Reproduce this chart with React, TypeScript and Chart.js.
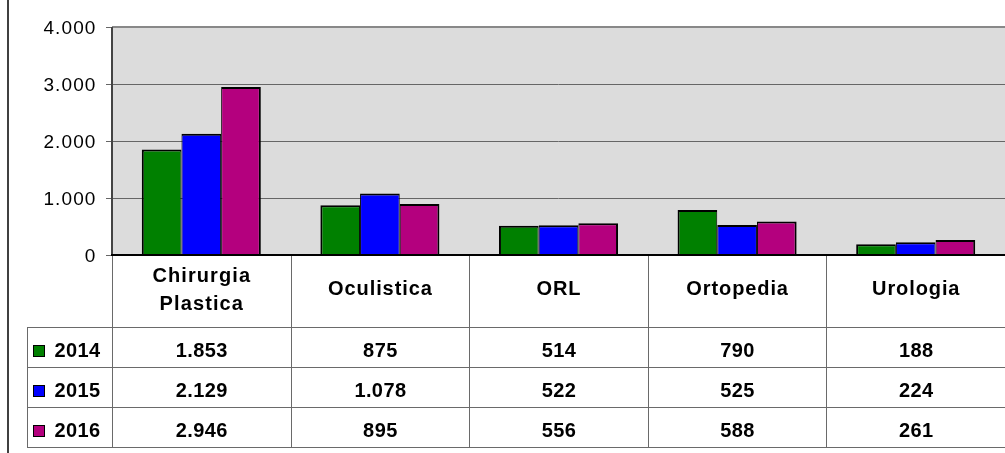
import React, { useEffect, useRef } from "react";
import { Chart, registerables } from "chart.js";

Chart.register(...registerables);

const categories: (string | string[])[] = [["Chirurgia", "Plastica"], "Oculistica", "ORL", "Ortopedia", "Urologia"];
const seriesLabels = ["2014", "2015", "2016"];
const values2014 = [1853, 875, 514, 790, 188];
const values2015 = [2129, 1078, 522, 525, 224];
const values2016 = [2946, 895, 556, 588, 261];
const seriesColors = ["#008000", "#0000ff", "#b4007e"];
const yMin = 0;
const yMax = 4000;
const yStep = 1000;

const W = 1005;
const H = 453;
const FONT = '"Liberation Sans", Arial, Helvetica, sans-serif';

function fmt(v: number): string {
  const s = Math.round(v).toString();
  return s.replace(/\B(?=(\d{3})+(?!\d))/g, ".");
}

function setSpacing(ctx: any, v: string) {
  try {
    ctx.letterSpacing = v;
  } catch (e) {}
}

const decorPlugin = {
  id: "decor",
  beforeDraw(chart: any) {
    const { ctx, chartArea } = chart;
    ctx.save();
    ctx.fillStyle = "#ffffff";
    ctx.fillRect(0, 0, chart.width, chart.height);
    ctx.fillStyle = "#dcdcdc";
    ctx.fillRect(chartArea.left, chartArea.top, chartArea.right - chartArea.left, chartArea.bottom - chartArea.top);
    ctx.restore();
  },
  afterDraw(chart: any) {
    const { ctx, chartArea } = chart;
    const xs = chart.scales.x;
    const ys = chart.scales.y;
    const n = categories.length;
    const left = chartArea.left;
    const right = chartArea.right;
    const catW = (right - left) / n;
    const bounds: number[] = [];
    for (let i = 0; i <= n; i++) bounds.push(left + i * catW);

    const axisY = ys.getPixelForValue(0);
    const headerBottom = 327;
    const rowH = 40;
    const tableBottom = headerBottom + rowH * seriesLabels.length;
    const legendLeft = 27;

    ctx.save();
    // table lines
    ctx.strokeStyle = "#6a6a6a";
    ctx.lineWidth = 1;
    ctx.beginPath();
    for (let i = 0; i < n; i++) {
      const x = Math.round(bounds[i]) + 0.5;
      ctx.moveTo(x, axisY);
      ctx.lineTo(x, tableBottom);
    }
    ctx.moveTo(legendLeft + 0.5, headerBottom);
    ctx.lineTo(legendLeft + 0.5, tableBottom);
    for (let r = 0; r <= seriesLabels.length; r++) {
      const y = headerBottom + r * rowH + 0.5;
      ctx.moveTo(legendLeft, y);
      ctx.lineTo(W, y);
    }
    ctx.stroke();

    // y tick marks
    ctx.strokeStyle = "#666666";
    ctx.beginPath();
    ys.ticks.forEach((t: any) => {
      const y = Math.round(ys.getPixelForValue(t.value)) + 0.5;
      ctx.moveTo(left - 6, y);
      ctx.lineTo(left, y);
    });
    ctx.stroke();

    // left axis line
    ctx.fillStyle = "#444444";
    ctx.fillRect(left - 1, chartArea.top, 2, axisY - chartArea.top);
    // bottom axis line
    ctx.fillStyle = "#000000";
    ctx.fillRect(left - 1, axisY - 1, right - left + 1, 2);

    // outer left border
    ctx.fillStyle = "#404040";
    ctx.fillRect(7, 0, 2, H);

    // y tick labels
    ctx.fillStyle = "#000000";
    ctx.font = `19px ${FONT}`;
    setSpacing(ctx, "1.1px");
    ctx.textAlign = "right";
    ctx.textBaseline = "alphabetic";
    ys.ticks.forEach((t: any) => {
      const y = ys.getPixelForValue(t.value);
      ctx.fillText(fmt(t.value), 96.5, y + 6.8);
    });

    // category headers
    ctx.font = `bold 20px ${FONT}`;
    ctx.textAlign = "center";
    categories.forEach((c, i) => {
      const cx = xs.getPixelForValue(i) + 0.5;
      if (Array.isArray(c)) {
        setSpacing(ctx, "1.1px");
        ctx.fillText(c[0], cx, 282);
        ctx.fillText(c[1], cx, 310);
      } else {
        setSpacing(ctx, "0.9px");
        ctx.fillText(c, cx, 295);
      }
    });

    // rows
    setSpacing(ctx, "0.4px");
    const allValues = [values2014, values2015, values2016];
    seriesLabels.forEach((lab, r) => {
      const base = headerBottom + r * rowH + 30;
      // legend square
      ctx.fillStyle = "#000000";
      ctx.fillRect(33, base - 12, 12, 12);
      ctx.fillStyle = seriesColors[r];
      ctx.fillRect(34, base - 11, 10, 10);
      ctx.fillStyle = "#000000";
      ctx.textAlign = "left";
      ctx.fillText(lab, 54.5, base);
      ctx.textAlign = "center";
      allValues[r].forEach((v, i) => {
        ctx.fillText(fmt(v), xs.getPixelForValue(i) + 0.5, base);
      });
    });
    setSpacing(ctx, "0px");
    ctx.restore();
  },
};

export default function App() {
  const ref = useRef<HTMLCanvasElement | null>(null);
  useEffect(() => {
    if (!ref.current) return;
    const allValues = [values2014, values2015, values2016];
    const borderWidths = [
      { top: 2, left: 2, right: 1, bottom: 0 },
      { top: 2, left: 1, right: 1, bottom: 0 },
      { top: 2, left: 1, right: 2, bottom: 0 },
    ];
    const chart = new Chart(ref.current, {
      type: "bar",
      data: {
        labels: categories.map((c) => (Array.isArray(c) ? c.join(" ") : c)),
        datasets: seriesLabels.map((lab, i) => ({
          label: lab,
          data: allValues[i],
          backgroundColor: seriesColors[i],
          borderColor: "#000000",
          borderWidth: borderWidths[i] as any,
          borderSkipped: false as any,
          categoryPercentage: 2 / 3,
          barPercentage: 1,
        })),
      },
      options: {
        responsive: false,
        animation: false,
        devicePixelRatio: 1,
        layout: { padding: { left: 112, top: 27, right: 0, bottom: H - 255 } },
        plugins: { legend: { display: false }, tooltip: { enabled: false } },
        scales: {
          x: { display: false, offset: true },
          y: {
            display: true,
            min: yMin,
            max: yMax,
            ticks: { display: false, stepSize: yStep },
            border: { display: false },
            grid: {
              drawTicks: false,
              color: (c: any) => (c.tick && c.tick.value === yMax ? "#888888" : c.tick && c.tick.value === 0 ? "rgba(0,0,0,0)" : "#666666"),
              lineWidth: (c: any) => (c.tick && c.tick.value === yMax ? 2 : 1),
            },
          },
        },
      },
      plugins: [decorPlugin],
    });
    return () => chart.destroy();
  }, []);
  return (
    <div style={{ position: "absolute", left: 0, top: 0, width: W, height: H, overflow: "hidden" }}>
      <canvas ref={ref} width={W} height={H} style={{ display: "block", width: W, height: H }} />
    </div>
  );
}
